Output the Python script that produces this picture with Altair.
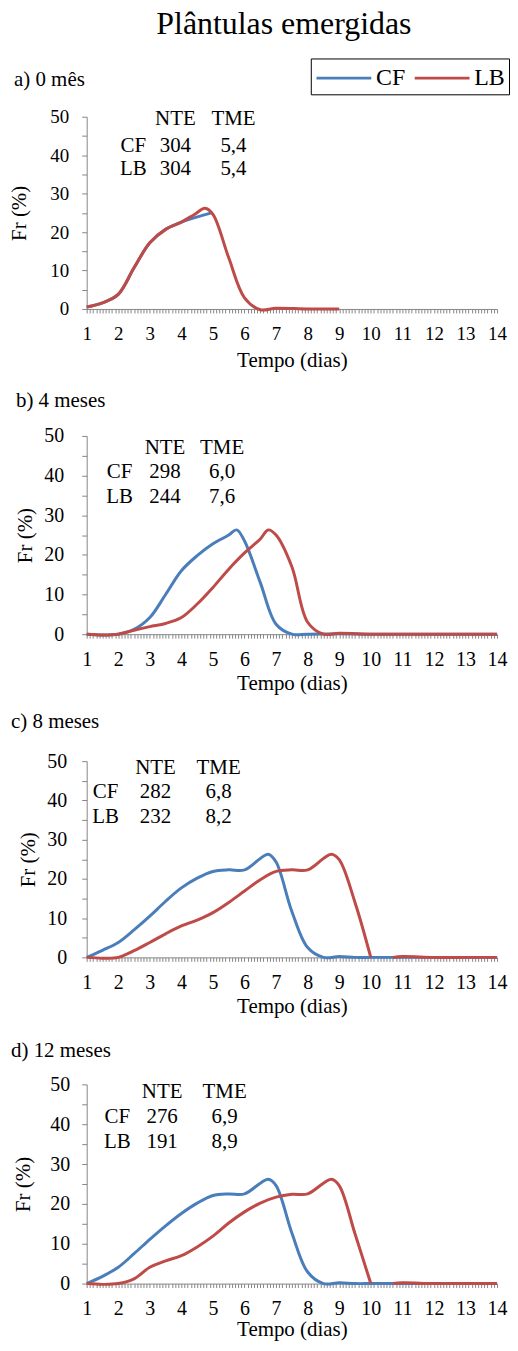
import altair as alt
import pandas as pd

FONT = "Liberation Serif"
CF_COLOR = "#4A7EBB"
LB_COLOR = "#BE4B48"
AXIS_GRAY = "#868686"

SERIES = ["CF", "LB"]

# ---- data ----
A_CF_X = [1, 1.5, 2, 2.5, 3, 3.5, 4, 4.95]
A_CF_Y = [0.5, 1.6, 3.8, 10.7, 17.2, 20.7, 22.6, 25.0]
A_LB_X = [1, 1.5, 2, 2.5, 3, 3.5, 4, 4.4, 4.75, 5, 5.5, 6, 6.5, 7, 8, 9]
A_LB_Y = [0.5, 1.6, 3.8, 10.7, 17.2, 20.7, 22.6, 24.5, 26.2, 24.6, 13.3, 2.9, -0.2, 0.2, 0, 0]

B_CF_X = [1, 1.5, 2, 2.5, 3, 3.5, 4, 4.5, 5, 5.5, 5.75, 6, 6.5, 7, 7.5, 8, 9, 10, 11, 12, 13, 14]
B_CF_Y = [0, -0.2, 0, 1.2, 4.2, 10, 16, 19.8, 22.8, 25, 26.3, 23.5, 13, 2.5, 0, 0, 0.1, 0, 0, 0, 0, 0]
B_LB_X = [1, 1.5, 2, 2.5, 3, 3.5, 4, 4.5, 5, 5.5, 6, 6.5, 6.75, 7, 7.5, 8, 8.5, 9, 10, 11, 12, 13, 14]
B_LB_Y = [0, -0.2, 0, 1, 1.9, 2.7, 4.2, 7.6, 11.8, 16.4, 20.5, 24, 26.3, 25, 17, 3, 0, 0.2, 0, 0, 0, 0, 0]

C_CF_X = [1, 1.5, 2, 2.5, 3, 3.5, 4, 4.5, 5, 5.5, 6, 6.5, 6.75, 7, 7.5, 8, 8.5, 9, 9.5, 10, 11, 12, 13, 14]
C_CF_Y = [0, 1.8, 3.8, 7, 10.5, 14.3, 17.7, 20.2, 21.9, 22.3, 22.3, 25.2, 26.3, 24.3, 11.7, 2.5, 0, 0.2, 0, 0, 0, 0, 0, 0]
C_LB_X = [1, 1.5, 2, 2.5, 3, 3.5, 4, 4.5, 5, 5.5, 6, 6.5, 7, 7.5, 8, 8.5, 8.75, 9, 9.5, 10, 10.4, 10.7, 11, 12, 13, 14]
C_LB_Y = [0, -0.2, 0, 1.7, 3.8, 6, 8, 9.5, 11.4, 14, 16.9, 19.8, 21.9, 22.3, 22.3, 25.2, 26.3, 24.9, 14, 0, None, 0, 0.2, 0, 0, 0]

D_CF_X = [1, 1.5, 2, 2.5, 3, 3.5, 4, 4.5, 5, 5.5, 6, 6.5, 6.75, 7, 7.5, 8, 8.5, 9, 9.5, 10, 11, 12, 13, 14]
D_CF_Y = [0, 1.8, 4.1, 7.5, 11.1, 14.5, 17.6, 20.2, 22.1, 22.5, 22.5, 25.2, 26.2, 24.6, 12.7, 2.9, 0, 0.2, 0, 0, 0, 0, 0, 0]
D_LB_X = [1, 1.5, 2, 2.5, 3, 3.5, 4, 4.5, 5, 5.5, 6, 6.5, 7, 7.5, 8, 8.5, 8.75, 9, 9.5, 10, 10.4, 10.7, 11, 12, 13, 14]
D_LB_Y = [0, -0.2, 0, 1.2, 4.1, 5.7, 7, 9.2, 11.9, 15.2, 18, 20.2, 21.7, 22.4, 22.5, 25.2, 26.2, 24.6, 12.5, 0, None, 0, 0.2, 0, 0, 0]

PANEL_TITLES = ["a) 0 mês", "b) 4 meses", "c) 8 meses", "d) 12 meses"]
NTE_CF = ["304", "298", "282", "276"]
NTE_LB = ["304", "244", "232", "191"]
TME_CF = ["5,4", "6,0", "6,8", "6,9"]
TME_LB = ["5,4", "7,6", "8,2", "8,9"]

Y_TICKS = list(range(0, 51, 5))

# ---- layout (positions / sizes, not data) ----
PLOT_W = 412
HEIGHTS = [193, 199, 197, 200]
SPACING = 127.5
LABEL_FS = [19, 20, 20, 20]
TABLE_FS = 21
TITLE_FS = 21
TITLE_DX = [-73, -71, -76, -76]
TITLE_OFFSET = [18, 15.4, 19.6, 13.8]
Y_LABEL_PAD = [13, 18, 15, 12]
Y_TITLE_PAD = [20.5, 8.8, 8.8, 16.6]
X_TITLE_PAD = [6.7, 3.1, 3, 0]
# table columns (x in data units) and rows (y in data units): label col, NTE col, TME col
TABLE_X = [(2.48, 3.81, 5.65), (2.04, 3.48, 5.29), (1.60, 3.18, 5.18), (1.97, 3.39, 5.37)]
TABLE_Y = [(49.4, 42.5, 36.5), (46.9, 40.9, 34.5), (48.2, 42.1, 35.7), (48.0, 41.9, 35.6)]


def series_rows(xs, ys, name):
    rows, seg = [], 0
    for xv, yv in zip(xs, ys):
        if yv is None:
            seg += 1
            continue
        rows.append({"x": xv, "y": yv, "series": name, "seg": f"{name}{seg}"})
    return rows


minor_x = [round(1 + i / 10, 1) for i in range(131)]

R = 13.75  # half of the nominal legend symbol size
legend = alt.Legend(
    orient="none", legendX=225, legendY=-58.5, direction="horizontal", title=None,
    symbolType="M-1,0H3", symbolSize=(2 * R) ** 2, symbolStrokeWidth=3,
    labelFont=FONT, labelFontSize=24, labelColor="black", labelOffset=2 * R + 3,
    strokeColor="black", fillColor="white", padding=4, columnPadding=2.6,
)


def make_axes(i):
    fs = LABEL_FS[i]
    xaxis = alt.Axis(
        values=minor_x,
        labelExpr="abs(datum.value - round(datum.value)) < 0.001 ? format(datum.value, 'd') : ''",
        title="Tempo (dias)", titleFont=FONT, titleFontSize=TITLE_FS, titleFontWeight="normal",
        titleColor="black", titlePadding=X_TITLE_PAD[i],
        labelFont=FONT, labelFontSize=fs, labelColor="black", labelPadding=11.5,
        labelOverlap=False, labelFlush=False, labelBound=False,
        grid=False, domainColor=AXIS_GRAY, tickColor=AXIS_GRAY, tickSize=4, tickWidth=1,
    )
    yaxis = alt.Axis(
        values=Y_TICKS,
        labelExpr="datum.value % 10 == 0 ? datum.label : ''",
        title="Fr (%)", titleFont=FONT, titleFontSize=TITLE_FS, titleFontWeight="normal",
        titleColor="black", titlePadding=Y_TITLE_PAD[i],
        labelFont=FONT, labelFontSize=fs, labelColor="black", labelPadding=Y_LABEL_PAD[i],
        labelOverlap=False, labelBound=False, grid=False,
        domainColor=AXIS_GRAY, tickColor=AXIS_GRAY, tickSize=5,
    )
    return xaxis, yaxis


def panel(i, cfx, cfy, lbx, lby):
    df = pd.DataFrame(series_rows(cfx, cfy, "CF") + series_rows(lbx, lby, "LB"))
    lx, nx, tx = TABLE_X[i]
    hy, r1, r2 = TABLE_Y[i]
    tdf = pd.DataFrame([
        {"x": nx, "y": hy, "t": "NTE"}, {"x": tx, "y": hy, "t": "TME"},
        {"x": lx, "y": r1, "t": "CF"}, {"x": nx, "y": r1, "t": NTE_CF[i]}, {"x": tx, "y": r1, "t": TME_CF[i]},
        {"x": lx, "y": r2, "t": "LB"}, {"x": nx, "y": r2, "t": NTE_LB[i]}, {"x": tx, "y": r2, "t": TME_LB[i]},
    ])
    xscale = alt.Scale(domain=[1, 14], nice=False, zero=False)
    yscale = alt.Scale(domain=[0, 50], nice=False, zero=False)
    xaxis, yaxis = make_axes(i)
    lines = alt.Chart(df).mark_line(interpolate="catmull-rom", strokeWidth=3).encode(
        x=alt.X("x:Q", scale=xscale, axis=xaxis),
        y=alt.Y("y:Q", scale=yscale, axis=yaxis),
        color=alt.Color("series:N", scale=alt.Scale(domain=SERIES, range=[CF_COLOR, LB_COLOR]), legend=legend),
        detail="seg:N",
    )
    text = alt.Chart(tdf).mark_text(font=FONT, fontSize=TABLE_FS, color="black",
                                    baseline="middle", align="center").encode(
        x=alt.X("x:Q", scale=xscale, axis=xaxis),
        y=alt.Y("y:Q", scale=yscale, axis=yaxis),
        text="t:N",
    )
    return alt.layer(lines, text).properties(
        width=PLOT_W, height=HEIGHTS[i],
        title=alt.TitleParams(PANEL_TITLES[i], anchor="start", frame="group", dx=TITLE_DX[i],
                              offset=TITLE_OFFSET[i], font=FONT, fontSize=TITLE_FS,
                              fontWeight="normal", color="black"),
    )


panels = [
    panel(0, A_CF_X, A_CF_Y, A_LB_X, A_LB_Y),
    panel(1, B_CF_X, B_CF_Y, B_LB_X, B_LB_Y),
    panel(2, C_CF_X, C_CF_Y, C_LB_X, C_LB_Y),
    panel(3, D_CF_X, D_CF_Y, D_LB_X, D_LB_Y),
]

chart = alt.vconcat(*panels, spacing=SPACING, bounds="flush").properties(
    title=alt.TitleParams("Plântulas emergidas", font=FONT, fontSize=32, fontWeight="normal",
                          color="black", anchor="middle", frame="group", dx=-8, offset=16.6),
    padding={"left": 0, "top": -2.5, "right": 0, "bottom": -1},
    background="white",
).configure_view(stroke=None).configure_axis(labelFont=FONT, titleFont=FONT)

chart.save("out.html", embed_options={"renderer": "svg", "actions": False})
